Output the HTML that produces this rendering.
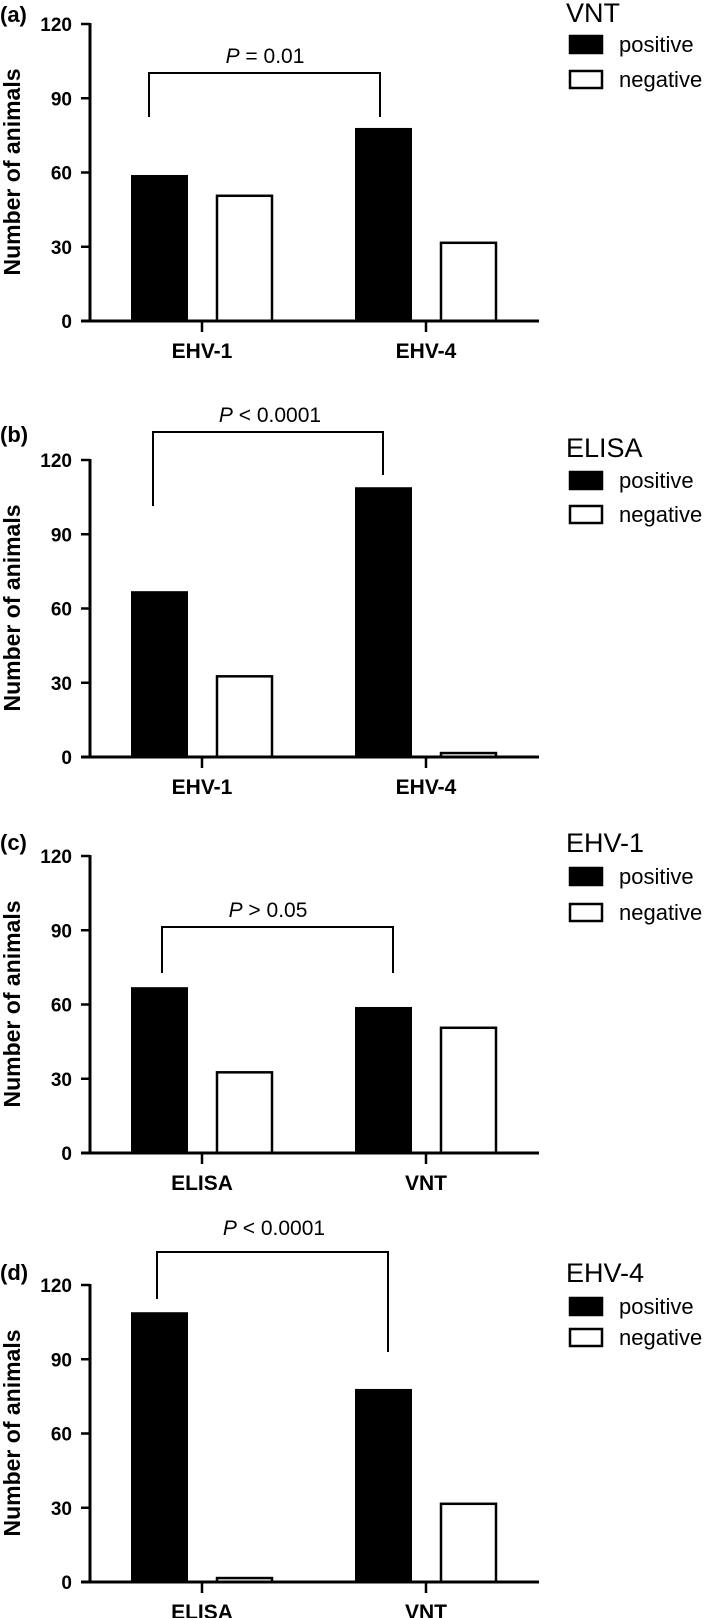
<!DOCTYPE html>
<html><head><meta charset="utf-8"><style>
body{margin:0;background:#fff;}
svg{display:block;font-family:"Liberation Sans",Arial,sans-serif;}
</style></head><body>
<svg id="fig" width="709" height="1618" viewBox="0 0 709 1618"></svg>
<script>
const panelLetters = ['(a)','(b)','(c)','(d)'];
const legendTitles = ['VNT','ELISA','EHV-1','EHV-4'];
const categoriesAB = ['EHV-1','EHV-4'];
const categoriesCD = ['ELISA','VNT'];
const positiveA = [59, 78];
const negativeA = [51, 32];
const positiveB = [67, 109];
const negativeB = [33, 2];
const positiveC = [67, 59];
const negativeC = [33, 51];
const positiveD = [109, 78];
const negativeD = [2, 32];
const pLabels = ['= 0.01','< 0.0001','> 0.05','< 0.0001'];
const yTicks = [0, 30, 60, 90, 120];
const seriesNames = ['positive','negative'];

const NS = 'http://www.w3.org/2000/svg';
const svg = document.getElementById('fig');
function mk(tag, attrs, parent, text){
  const e = document.createElementNS(NS, tag);
  for (const k in attrs) e.setAttribute(k, attrs[k]);
  if (text !== undefined) e.textContent = text;
  (parent || svg).appendChild(e);
  return e;
}
const panels = [
  {zero:321, cats:categoriesAB, pos:positiveA, neg:negativeA, br:[149,380,73,117,117], pT:[265,63], lt:22, sq:[35,70], lab:22},
  {zero:757, cats:categoriesAB, pos:positiveB, neg:negativeB, br:[153,383,432,506,475], pT:[270,422], lt:457, sq:[471,505], lab:442},
  {zero:1153, cats:categoriesCD, pos:positiveC, neg:negativeC, br:[162,393,927,973,973], pT:[268,917], lt:852, sq:[867,903], lab:850},
  {zero:1582, cats:categoriesCD, pos:positiveD, neg:negativeD, br:[157,388,1252,1299,1352], pT:[274,1235], lt:1282, sq:[1297,1328], lab:1280}
];
const pxPerUnit = 297/120;
const axisX = 90;
const groupCenters = [202, 426];
const barW = 57;
const posOffset = -71, negOffset = 14;

panels.forEach((p, i) => {
  const g = mk('g', {});
  
  
  const y = v => p.zero - v * pxPerUnit;
  const lbl = mk('text', {x:0, y:p.lab, 'font-size':22, 'font-weight':'bold'}, g, panelLetters[i]);
  
  
  p.cats.forEach((c, j) => {
    const cx = groupCenters[j];
    const b1 = mk('rect', {x:cx+posOffset, y:y(p.pos[j]), width:barW, height:p.pos[j]*pxPerUnit, fill:'#000'}, g);
    
    
    const b2 = mk('rect', {x:cx+negOffset+1, y:y(p.neg[j])+1, width:barW-2, height:Math.max(p.neg[j]*pxPerUnit-1,0), fill:'#fff', stroke:'#000', 'stroke-width':2.5}, g);
    
    
    mk('line', {x1:cx, x2:cx, y1:p.zero, y2:p.zero+11, stroke:'#000', 'stroke-width':2.5}, g);
    const xl = mk('text', {x:cx, y:p.zero+37, 'font-size':21, 'font-weight':'bold', 'text-anchor':'middle'}, g, c);
    
    
  });
  const ya = mk('line', {x1:axisX, x2:axisX, y1:y(120)-1, y2:p.zero, stroke:'#000', 'stroke-width':3}, g);
  
  
  const xa = mk('line', {x1:81, x2:539, y1:p.zero, y2:p.zero, stroke:'#000', 'stroke-width':3}, g);
  
  
  yTicks.forEach(t => {
    mk('line', {x1:81, x2:axisX, y1:y(t), y2:y(t), stroke:'#000', 'stroke-width':2.5}, g);
    const tl = mk('text', {x:72, y:y(t)+7, 'font-size':19, 'font-weight':'bold', 'text-anchor':'end'}, g, String(t));
    
    
  });
  const yt = mk('text', {transform:'translate(20,'+(p.zero-149)+') rotate(-90)', 'font-size':23, 'font-weight':'bold', 'text-anchor':'middle'}, g, 'Number of animals');
  
  
  const b = p.br;
  const br = mk('path', {d:'M'+b[0]+','+b[3]+' V'+b[2]+' H'+b[1]+' V'+b[4], fill:'none', stroke:'#000', 'stroke-width':2}, g);
  
  
  const pt = mk('text', {x:p.pT[0], y:p.pT[1], 'font-size':21, 'text-anchor':'middle'}, g);
  
  
  mk('tspan', {'font-style':'italic'}, pt, 'P');
  mk('tspan', {}, pt, ' ' + pLabels[i]);
  const lg = mk('g', {}, g);
  
  
  mk('text', {x:566, y:p.lt, 'font-size':27}, lg, legendTitles[i]);
  seriesNames.forEach((s, k) => {
    const sy = p.sq[k];
    const sw = mk('rect', {x:570, y:sy+1, width:32, height:17, fill:k===0?'#000':'#fff', stroke:'#000', 'stroke-width':2.5}, lg);
    
    
    const lt = mk('text', {x:619, y:sy+17, 'font-size':22}, lg, s);
    
    
  });
});
</script>
</body></html>
